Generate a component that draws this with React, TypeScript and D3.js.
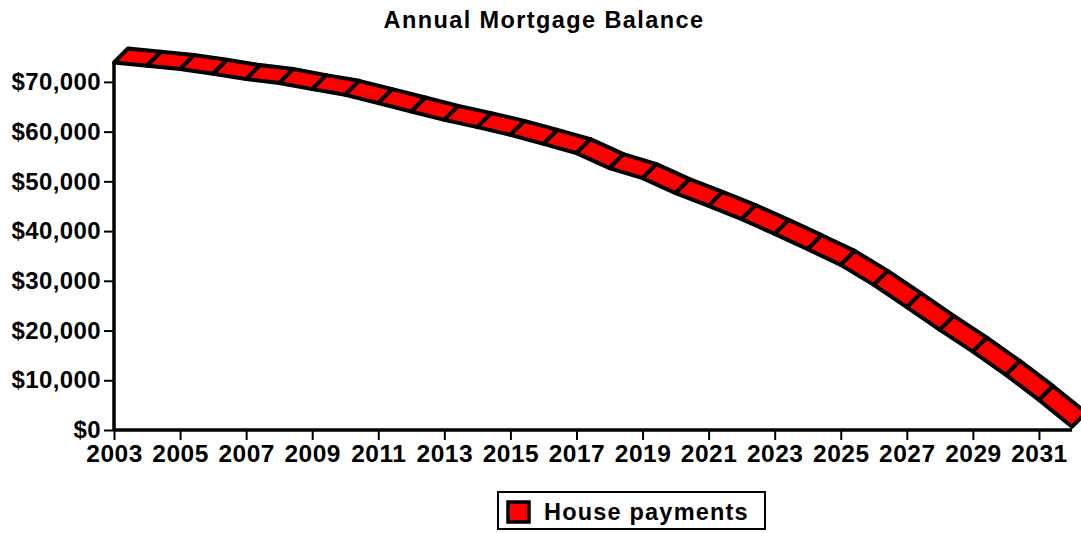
import * as d3 from "d3";
import React, { useEffect, useRef } from "react";

const years = [
	2003, 2004, 2005, 2006, 2007, 2008, 2009, 2010, 2011, 2012, 2013, 2014, 2015, 2016, 2017, 2018, 2019, 2020, 2021,
	2022, 2023, 2024, 2025, 2026, 2027, 2028, 2029, 2030, 2031, 2032,
];
const balances = [
	73900, 73240, 72575, 71630, 70560, 69760, 68550, 67400, 65730, 64040, 62370, 60900, 59350, 57540, 55670, 52660, 50640,
	47620, 45070, 42390, 39440, 36360, 33200, 29180, 24690, 20120, 15750, 11070, 6040, 660,
];
const xTicks = [2003, 2005, 2007, 2009, 2011, 2013, 2015, 2017, 2019, 2021, 2023, 2025, 2027, 2029, 2031];
const yTicks = [0, 10000, 20000, 30000, 40000, 50000, 60000, 70000];
const seriesName = "House payments";
const title = "Annual Mortgage Balance";

export default function App() {
	const svgRef = useRef(null);

	useEffect(() => {
		const width = 1081;
		const height = 533;
		const svg = d3.select(svgRef.current);
		svg.selectAll("*").remove();
		svg.attr("width", width).attr("height", height).attr("viewBox", [0, 0, width, height]);

		const font = "'Liberation Sans', Arial, sans-serif";
		const x = d3.scaleLinear().domain([2003, 2032]).range([114, 1072]);
		const y = d3.scaleLinear().domain([0, 74000]).range([430, 62]);
		// depth of the 3d ribbon
		const dx = 14;
		const dy = -14;

		svg.append("rect").attr("width", width).attr("height", height).attr("fill", "white");

		// title
		svg
			.append("text")
			.attr("x", 544)
			.attr("y", 28)
			.attr("text-anchor", "middle")
			.attr("font-family", font)
			.attr("font-weight", "bold")
			.attr("font-size", 23.5)
			.attr("letter-spacing", 1.4)
			.text(title);

		// y axis
		const yAxis = svg
			.append("g")
			.attr("transform", `translate(${x(2003)},0)`)
			.call(
				d3
					.axisLeft(y)
					.tickValues(yTicks)
					.tickSize(10)
					.tickPadding(3)
					.tickFormat((d) => "$" + d3.format(",")(d)),
			);
		yAxis.select(".domain").attr("stroke-width", 3.5).attr("d", `M0,${y(0)}V${y(74000)}`);
		yAxis.selectAll(".tick line").attr("stroke-width", 2);
		yAxis
			.selectAll(".tick text")
			.attr("font-family", font)
			.attr("font-weight", "bold")
			.attr("font-size", 24)
			.attr("letter-spacing", 0.4)
			.attr("fill", "black");

		// x axis
		const xAxis = svg
			.append("g")
			.attr("transform", `translate(0,${y(0)})`)
			.call(
				d3
					.axisBottom(x)
					.tickValues(xTicks)
					.tickSize(10)
					.tickPadding(5)
					.tickFormat((d) => String(d)),
			);
		xAxis.select(".domain").attr("stroke-width", 3.5).attr("d", `M${x(2003)},0H${x(2032)}`);
		xAxis.selectAll(".tick line").attr("stroke-width", 2);
		xAxis
			.selectAll(".tick text")
			.attr("font-family", font)
			.attr("font-weight", "bold")
			.attr("font-size", 24.5)
			.attr("letter-spacing", 0.5)
			.attr("fill", "black");

		// ribbon segments
		const pts = years.map((yr, i) => [x(yr), y(balances[i])]);
		const segs = d3.pairs(pts);
		svg
			.append("g")
			.attr("fill", "#ff0000")
			.attr("stroke", "black")
			.attr("stroke-width", 4)
			.attr("stroke-linejoin", "round")
			.selectAll("path")
			.data(segs)
			.join("path")
			.attr("d", ([a, b]) => {
				const p = d3.path();
				p.moveTo(a[0], a[1]);
				p.lineTo(b[0], b[1]);
				p.lineTo(b[0] + dx, b[1] + dy);
				p.lineTo(a[0] + dx, a[1] + dy);
				p.closePath();
				return p.toString();
			});

		// legend
		const lg = svg.append("g");
		lg.append("rect")
			.attr("x", 498)
			.attr("y", 492)
			.attr("width", 267)
			.attr("height", 37)
			.attr("fill", "white")
			.attr("stroke", "black")
			.attr("stroke-width", 2);
		lg.append("rect")
			.attr("x", 508)
			.attr("y", 502)
			.attr("width", 21)
			.attr("height", 20)
			.attr("fill", "#ff0000")
			.attr("stroke", "black")
			.attr("stroke-width", 3.5);
		lg.append("text")
			.attr("x", 544)
			.attr("y", 520)
			.attr("font-family", font)
			.attr("font-weight", "bold")
			.attr("font-size", 23.5)
			.attr("letter-spacing", 1.2)
			.text(seriesName);
	}, []);

	return (
		<div style={{ position: "absolute", left: 0, top: 0 }}>
			<svg ref={svgRef} style={{ display: "block" }} />
		</div>
	);
}
